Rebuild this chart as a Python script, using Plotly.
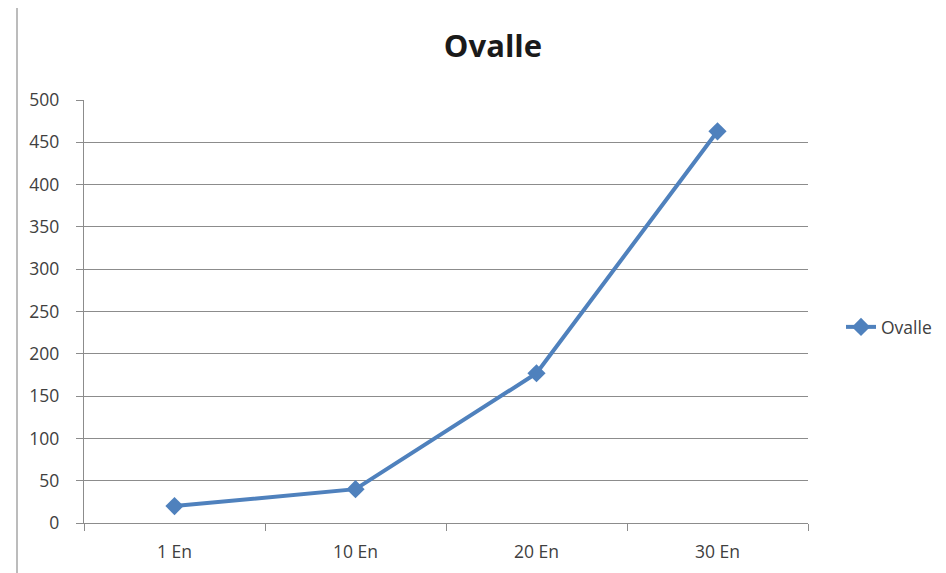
import plotly.graph_objects as go

categories = ["1 En", "10 En", "20 En", "30 En"]
values = [20, 40, 177, 463]
series_name = "Ovalle"
title_text = "Ovalle"
y_ticks = [0, 50, 100, 150, 200, 250, 300, 350, 400, 450, 500]

W, H = 946, 573
OFF = 8  # page body offset
# target plot box in screen pixels: x 84..808, y 100..523
L, R, T, B = 84 - OFF, W - 808 + OFF, 100 - OFF, H - 523 + OFF
pw, ph = W - L - R, H - T - B


def px_x(sx):
    return (sx - 84) / pw


def px_y(sy):
    return (523 - sy) / ph


blue = "#4F81BD"
grid = "#8C8C8C"
font_family = "'Open Sans', Lato, sans-serif"

fig = go.Figure()
fig.add_trace(go.Scatter(
    x=categories, y=values, name=series_name, mode="lines+markers",
    line=dict(color=blue, width=4),
    marker=dict(symbol="diamond", size=14, color=blue),
))

fig.update_layout(
    width=W, height=H,
    margin=dict(l=L, r=R, t=T, b=B, autoexpand=False),
    paper_bgcolor="white", plot_bgcolor="white",
    font=dict(family=font_family, size=17.5, color="#404040"),
    title=dict(text=title_text, x=px_x(493), xref="paper", xanchor="center",
               y=1 - (46 - OFF) / H, yref="container", yanchor="middle",
               font=dict(family=font_family, size=31, color="#1a1a1a", weight="bold")),
    showlegend=True,
    legend=dict(x=px_x(841), xanchor="left", y=px_y(327), yanchor="middle",
                font=dict(size=17.5, color="#404040"), bgcolor="rgba(0,0,0,0)",
                itemwidth=30),
    xaxis=dict(type="category", range=[-0.5, 3.5], tickson="boundaries",
               ticks="outside", ticklen=7, tickcolor=grid, tickwidth=1.3,
               showline=True, linecolor=grid, linewidth=1.3, showgrid=False,
               zeroline=False, ticklabelstandoff=13, fixedrange=True),
    yaxis=dict(range=[0, 500], tickvals=y_ticks, ticks="outside", ticklen=7,
               tickcolor=grid, tickwidth=1.3, showline=True, linecolor=grid,
               linewidth=1.3, showgrid=True, gridcolor=grid, gridwidth=1.3,
               zeroline=False, ticklabelstandoff=13),
)

fig.add_shape(type="line", xref="paper", yref="paper",
              x0=px_x(17), x1=px_x(17), y0=px_y(573), y1=px_y(7),
              line=dict(color="#A6A6A6", width=1.5))

fig.write_html("out.html")
